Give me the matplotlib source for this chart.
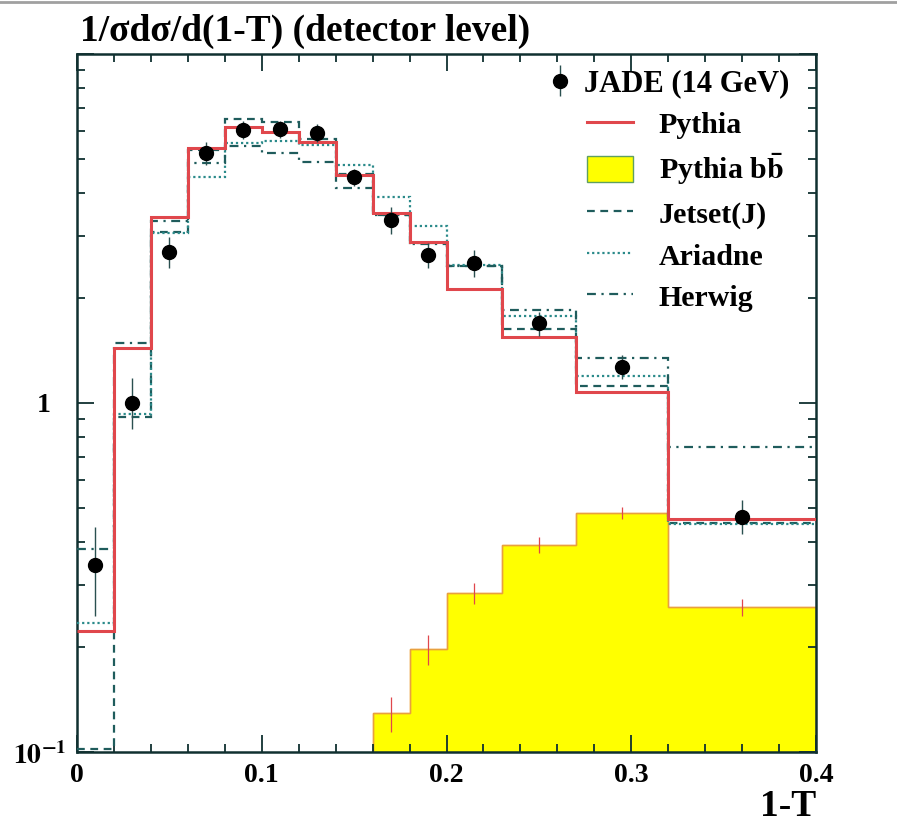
import numpy as np
import matplotlib
matplotlib.use("Agg")
import matplotlib.pyplot as plt
from matplotlib.lines import Line2D
from matplotlib.patches import Patch
from matplotlib.ticker import MultipleLocator, LogLocator, FixedLocator, FixedFormatter, NullFormatter

plt.rcParams["font.family"] = ["Liberation Serif", "DejaVu Serif"]
plt.rcParams["font.weight"] = "bold"
plt.rcParams["axes.labelweight"] = "bold"
plt.rcParams["mathtext.fontset"] = "stix"

# bin edges of the 1-T distribution
edges = [0.0, 0.02, 0.04, 0.06, 0.08, 0.10, 0.12, 0.14, 0.16, 0.18, 0.20, 0.23, 0.27, 0.32, 0.40]

# Monte Carlo predictions (detector level)
pythia = [0.222, 1.44, 3.41, 5.38, 6.18, 5.98, 5.60, 4.50, 3.50, 2.90, 2.12, 1.55, 1.075, 0.465]
jetset = [0.102, 0.912, 3.09, 5.30, 6.51, 6.39, 5.71, 4.53, 3.46, 2.87, 2.47, 1.63, 1.12, 0.453]
ariadne = [0.234, 0.93, 3.07, 4.44, 5.56, 5.63, 5.49, 4.81, 3.89, 3.22, 2.49, 1.78, 1.195, 0.45]
herwig = [0.382, 1.49, 3.33, 4.87, 5.45, 5.20, 4.90, 4.13, 3.46, 2.85, 2.47, 1.85, 1.35, 0.748]

# Pythia b-bbar contribution
bb_edges = [0.16, 0.18, 0.20, 0.23, 0.27, 0.32, 0.40]
bb_x = [0.17, 0.19, 0.215, 0.25, 0.295, 0.36]
bb = [0.129, 0.197, 0.285, 0.392, 0.484, 0.260]
bb_err = [0.015, 0.02, 0.02, 0.02, 0.02, 0.015]

# JADE data at 14 GeV
data_x = [0.01, 0.03, 0.05, 0.07, 0.09, 0.11, 0.13, 0.15, 0.17, 0.19, 0.215, 0.25, 0.295, 0.36]
data_y = [0.343, 1.00, 2.71, 5.20, 6.06, 6.09, 5.94, 4.44, 3.35, 2.65, 2.52, 1.69, 1.27, 0.47]
data_lo = [0.098, 0.158, 0.28, 0.40, 0.35, 0.35, 0.35, 0.25, 0.30, 0.22, 0.22, 0.13, 0.10, 0.05]
data_hi = [0.098, 0.180, 0.28, 0.40, 0.35, 0.35, 0.35, 0.25, 0.30, 0.22, 0.22, 0.13, 0.10, 0.057]

red = "#e0474c"
mc_col = "#1f5c5c"

fig = plt.figure(figsize=(8.97, 8.23), dpi=100)
ax = fig.add_axes([77 / 897, 1 - 752 / 823, 739 / 897, 698 / 823])
ax.set_yscale("log")

ax.stairs(bb, bb_edges, baseline=1e-3, fill=True, facecolor="#ffff00",
          edgecolor="#f0a030", linewidth=1.0, zorder=1)
ax.stairs(bb, bb_edges, baseline=1e-3, color="#e8a040", linewidth=1.0, zorder=1)
ax.errorbar(bb_x, bb, yerr=bb_err, fmt="none", ecolor=red, elinewidth=0.9, zorder=2)

ax.stairs(jetset, edges, baseline=None, color=mc_col, linestyle=(0, (3.5, 2.5)), linewidth=1.6, zorder=3)
ax.stairs(ariadne, edges, baseline=None, color="#2a8a8a", linestyle=(0, (1, 1.3)), linewidth=1.6, zorder=3)
ax.stairs(herwig, edges, baseline=None, color=mc_col, linestyle=(0, (4, 2.5, 1, 2.5)), linewidth=1.6, zorder=3)
ax.stairs(pythia, edges, baseline=None, color=red, linewidth=2.2, zorder=4)

jade = ax.errorbar(data_x, data_y, yerr=[data_lo, data_hi], fmt="o", color="black",
                   markersize=10, ecolor="#2a5050", elinewidth=1.0, zorder=5)

ax.set_xlim(0, 0.4)
ax.set_ylim(0.1, 10)

ax.xaxis.set_major_locator(FixedLocator([0, 0.1, 0.2, 0.3, 0.4]))
ax.xaxis.set_major_formatter(FixedFormatter(["0", "0.1", "0.2", "0.3", "0.4"]))
ax.xaxis.set_minor_locator(MultipleLocator(0.02))
ax.yaxis.set_major_locator(FixedLocator([0.1, 1, 10]))
ax.yaxis.set_major_formatter(FixedFormatter(["", "1", ""]))
ax.yaxis.set_minor_locator(LogLocator(base=10, subs=np.arange(2, 10)))
ax.yaxis.set_minor_formatter(NullFormatter())

ax.tick_params(which="both", direction="in", top=True, right=True, width=1.3, colors="#103030",
               labelcolor="black", labelsize=20)
ax.tick_params(which="major", length=12)
ax.tick_params(which="minor", length=6)
ax.tick_params(axis="x", pad=8)
ax.tick_params(axis="y", pad=19)
for s in ax.spines.values():
    s.set_linewidth(1.8)
    s.set_color("#103030")

# ROOT-style label for the lowest decade
ax.annotate(r"$\mathbf{10^{-1}}$", xy=(0, 0.1), xycoords=("axes fraction", "data"),
            xytext=(-7.5, -9), textcoords="offset points", ha="right", va="baseline",
            fontsize=20)

ax.set_xlabel("1-T", fontsize=27, fontweight="bold", loc="right", labelpad=1)
fig.text(80 / 897, 1 - 31 / 823, "1/σdσ/d(1-T) (detector level)", fontsize=27,
         fontweight="bold", ha="left", va="center")

# legends
leg1 = ax.legend(handles=[jade], labels=["JADE (14 GeV)"], loc="upper left",
                 bbox_to_anchor=(0.637, 0.978), frameon=False, fontsize=22,
                 handlelength=0.8, handletextpad=0.4, borderpad=0, borderaxespad=0)
ax.add_artist(leg1)
handles = [
    Line2D([], [], color=red, linewidth=2.2),
    Patch(facecolor="#ffff00", edgecolor="#60a060", linewidth=1.0),
    Line2D([], [], color=mc_col, linestyle=(0, (3.5, 2.5)), linewidth=1.6),
    Line2D([], [], color="#2a8a8a", linestyle=(0, (1, 1.3)), linewidth=1.6),
    Line2D([], [], color=mc_col, linestyle=(0, (4, 2.5, 1, 2.5)), linewidth=1.6),
]
labels = ["Pythia", r"Pythia b$\bar{\mathbf{b}}$", "Jetset(J)", "Ariadne", "Herwig"]
ax.legend(handles=handles, labels=labels, loc="upper left", bbox_to_anchor=(0.690, 0.920),
          frameon=False, fontsize=21.5, handlelength=1.55, handleheight=1.0,
          handletextpad=0.85, labelspacing=0.40, borderpad=0, borderaxespad=0)

fig.add_artist(Line2D([0, 1], [0.998, 0.998], color="#a0a0a0", linewidth=2))

fig.savefig("out.png", dpi=100)
